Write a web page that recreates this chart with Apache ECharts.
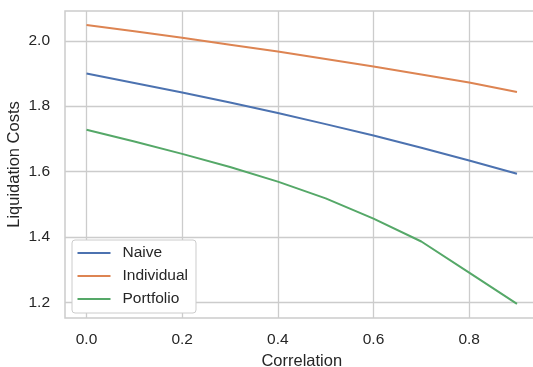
<!DOCTYPE html>
<html>
<head>
<meta charset="utf-8">
<script src="https://cdn.jsdelivr.net/npm/echarts@6/dist/echarts.min.js"></script>
<style>html,body{margin:0;padding:0;background:#fff}#c{width:533px;height:367px}</style>
</head>
<body>
<div id="c"></div>
<script>
const correlation = [0.0, 0.1, 0.2, 0.3, 0.4, 0.5, 0.6, 0.7, 0.8, 0.9];
const naive      = [1.900, 1.871, 1.842, 1.811, 1.779, 1.745, 1.710, 1.673, 1.634, 1.593];
const individual = [2.048, 2.029, 2.009, 1.988, 1.967, 1.944, 1.921, 1.897, 1.872, 1.843];
const portfolio  = [1.728, 1.692, 1.654, 1.614, 1.569, 1.518, 1.456, 1.386, 1.291, 1.195];
const xTicks = [0.0, 0.2, 0.4, 0.6, 0.8];
const yTicks = [1.2, 1.4, 1.6, 1.8, 2.0];
const seriesNames = ['Naive', 'Individual', 'Portfolio'];
const colors = ['#4c72b0', '#dd8452', '#55a868'];

const font = "'Liberation Sans', Arial, sans-serif";
const textColor = '#262626';
const chart = echarts.init(document.getElementById('c'), null, {renderer: 'canvas'});
const pairs = arr => correlation.map((x, i) => [x, arr[i]]);
const seriesData = [naive, individual, portfolio];

chart.setOption({
  animation: false,
  backgroundColor: '#ffffff',
  grid: {left: 65, right: -5.5, top: 11, bottom: 49, show: true, borderColor: '#cccccc', borderWidth: 1.5,
    backgroundColor: 'transparent', containLabel: false, outerBoundsMode: 'none'},
  xAxis: {
    type: 'value', min: -0.045, max: 0.945,
    name: 'Correlation', nameLocation: 'middle', nameGap: 34.5, nameMoveOverlap: false,
    nameTextStyle: {fontFamily: font, fontSize: 16.5, color: textColor},
    axisLine: {show: false},
    axisTick: {show: false, customValues: xTicks},
    axisLabel: {customValues: xTicks, margin: 14, fontFamily: font, fontSize: 15.5, color: textColor,
      formatter: v => v.toFixed(1)},
    splitLine: {show: true, lineStyle: {color: '#cccccc', width: 1.3}}
  },
  yAxis: {
    type: 'value', min: 1.152, max: 2.091,
    name: 'Liquidation Costs', nameLocation: 'middle', nameGap: 42, nameMoveOverlap: false,
    nameTextStyle: {fontFamily: font, fontSize: 16.5, color: textColor},
    axisLine: {show: false},
    axisTick: {show: false, customValues: yTicks},
    axisLabel: {customValues: yTicks, margin: 15, fontFamily: font, fontSize: 15.5, color: textColor,
      formatter: v => v.toFixed(1)},
    splitLine: {show: true, lineStyle: {color: '#cccccc', width: 1.3}}
  },
  legend: {
    orient: 'vertical', left: 72, top: 240,
    data: seriesNames.map(n => ({name: n, icon: 'rect'})),
    backgroundColor: '#ffffff', borderColor: '#cccccc', borderWidth: 1, borderRadius: 3,
    padding: [5, 8, 6, 5.5],
    itemWidth: 33, itemHeight: 2, itemGap: 7,
    textStyle: {fontFamily: font, fontSize: 15.5, color: textColor, padding: [0, 0, 0, 7]}
  },
  series: seriesNames.map((n, i) => ({
    name: n, type: 'line', data: pairs(seriesData[i]),
    showSymbol: false, symbol: 'none',
    lineStyle: {color: colors[i], width: 2},
    itemStyle: {color: colors[i]},
    z: 3
  }))
});
</script>
</body>
</html>
